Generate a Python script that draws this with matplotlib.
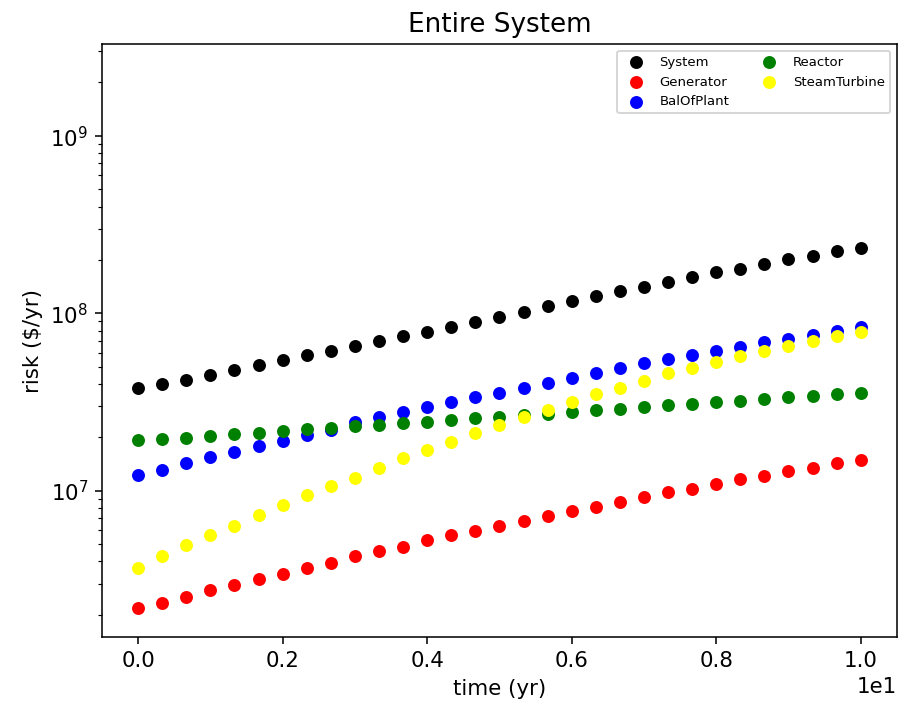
import numpy as np
import matplotlib
matplotlib.use("Agg")
import matplotlib.pyplot as plt

# ─── data ───
time = np.linspace(0, 10, 31)

system = [3.81e7, 3.98e7, 4.23e7, 4.51e7, 4.79e7, 5.11e7, 5.44e7, 5.80e7, 6.17e7, 6.54e7,
          6.95e7, 7.42e7, 7.89e7, 8.42e7, 8.93e7, 9.53e7, 1.013e8, 1.10e8, 1.173e8, 1.247e8,
          1.330e8, 1.414e8, 1.509e8, 1.601e8, 1.709e8, 1.777e8, 1.896e8, 2.015e8, 2.103e8,
          2.235e8, 2.333e8]
generator = [2.198e6, 2.333e6, 2.534e6, 2.761e6, 2.934e6, 3.186e6, 3.399e6, 3.692e6, 3.939e6,
             4.276e6, 4.562e6, 4.850e6, 5.262e6, 5.614e6, 5.967e6, 6.367e6, 6.759e6, 7.211e6,
             7.665e6, 8.147e6, 8.694e6, 9.228e6, 9.845e6, 1.029e7, 1.092e7, 1.161e7, 1.212e7,
             1.293e7, 1.351e7, 1.429e7, 1.491e7]
bal_of_plant = [1.234e7, 1.316e7, 1.429e7, 1.550e7, 1.654e7, 1.797e7, 1.908e7, 2.073e7, 2.200e7,
                2.441e7, 2.595e7, 2.795e7, 2.966e7, 3.164e7, 3.363e7, 3.574e7, 3.814e7, 4.069e7,
                4.319e7, 4.609e7, 4.899e7, 5.227e7, 5.556e7, 5.800e7, 6.165e7, 6.458e7, 6.891e7,
                7.202e7, 7.517e7, 7.989e7, 8.341e7]
reactor = [1.925e7, 1.950e7, 1.993e7, 2.035e7, 2.081e7, 2.127e7, 2.172e7, 2.221e7, 2.258e7,
           2.309e7, 2.348e7, 2.400e7, 2.454e7, 2.505e7, 2.561e7, 2.618e7, 2.673e7, 2.722e7,
           2.779e7, 2.841e7, 2.904e7, 2.965e7, 3.031e7, 3.099e7, 3.164e7, 3.222e7, 3.290e7,
           3.363e7, 3.438e7, 3.510e7, 3.574e7]
steam_turbine = [3.692e6, 4.276e6, 4.95e6, 5.614e6, 6.37e6, 7.34e6, 8.32e6, 9.43e6, 1.070e7,
                 1.187e7, 1.344e7, 1.524e7, 1.691e7, 1.876e7, 2.128e7, 2.348e7, 2.618e7, 2.852e7,
                 3.164e7, 3.510e7, 3.814e7, 4.139e7, 4.592e7, 4.899e7, 5.316e7, 5.777e7, 6.165e7,
                 6.543e7, 6.983e7, 7.420e7, 7.886e7]

series = [("System", system, "black"),
          ("Generator", generator, "red"),
          ("BalOfPlant", bal_of_plant, "blue"),
          ("Reactor", reactor, "green"),
          ("SteamTurbine", steam_turbine, "yellow")]

plt.rcParams["font.size"] = 11

fig, ax = plt.subplots(figsize=(6.42, 5.08), dpi=140)
fig.subplots_adjust(left=0.1135, right=0.9978, bottom=0.104, top=0.938)

for name, vals, col in series:
    ax.scatter(time, vals, color=col, label=name, s=32)

ax.set_yscale("log")
ax.set_ylim(1.5e6, 3.3e9)
ax.ticklabel_format(axis="x", style="sci", scilimits=(0, 0))
ax.set_xlabel("time (yr)")
ax.set_ylabel("risk ($/yr)")
ax.set_title("Entire System", fontsize=13.5)
ax.legend(loc="upper right", ncol=2, fontsize=6.8)

fig.savefig("out.png", dpi=140)
